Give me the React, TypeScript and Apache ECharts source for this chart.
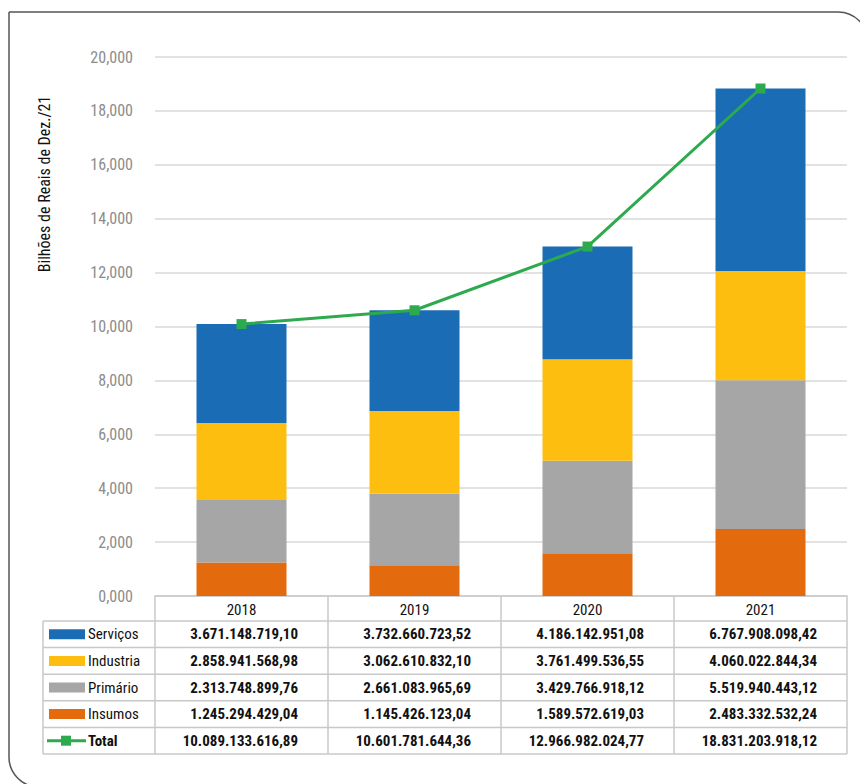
import React, { useEffect, useRef } from "react";
import * as echarts from "echarts";

const categories = ["2018", "2019", "2020", "2021"];
const seriesNames = ["Serviços", "Industria", "Primário", "Insumos"];
const servicos = [3671148719.1, 3732660723.52, 4186142951.08, 6767908098.42];
const industria = [2858941568.98, 3062610832.1, 3761499536.55, 4060022844.34];
const primario = [2313748899.76, 2661083965.69, 3429766918.12, 5519940443.12];
const insumos = [1245294429.04, 1145426123.04, 1589572619.03, 2483332532.24];
const totals = [10089133616.89, 10601781644.36, 12966982024.77, 18831203918.12];
const totalName = "Total";
const yTicks = { min: 0, max: 20, interval: 2 };
const axisName = "Bilhões de Reais de Dez./21";

const colors = ["#1A6DB5", "#FDBE10", "#A6A6A6", "#E36B0E"];
const green = "#2EAA4E";
const FONT = "'Liberation Sans Narrow', 'Roboto Condensed', 'DejaVu Sans Condensed', Roboto, sans-serif";

const fmtBR = (n: number) => {
  const [i, d] = n.toFixed(2).split(".");
  return i.replace(/\B(?=(\d{3})+(?!\d))/g, ".") + "," + d;
};

export default function App() {
  const ref = useRef<HTMLDivElement>(null);
  useEffect(() => {
    if (!ref.current) return;
    const chart = echarts.init(ref.current, null, { renderer: "svg" });
    const W = 860;
    const gridLeft = 155;
    const gridRight = 13;
    const gridTop = 57;
    const axisY = 596;
    const gridBottom = 784 - axisY;
    const tableLeft = 43;
    const tableRight = W - gridRight;
    const headerH = 25;
    const rowH = 26.6;
    const colW = (tableRight - gridLeft) / categories.length;
    const lineColor = "#C8C8C8";

    const rowsData = [servicos, industria, primario, insumos, totals];
    const rowLabels = [...seriesNames, totalName];
    const nRows = rowLabels.length;
    const tableTop = axisY + headerH;
    const tableBottom = tableTop + nRows * rowH;

    const graphics: any[] = [];
    // frame
    graphics.push({
      type: "rect",
      shape: { x: 9, y: 12, width: 859, height: 775, r: [0, 30, 0, 30] },
      style: { fill: "none", stroke: "#555", lineWidth: 1.5 },
      silent: true,
    });
    // y axis name
    graphics.push({
      type: "text",
      x: 44,
      y: 184,
      rotation: Math.PI / 2,
      style: {
        text: axisName,
        fontFamily: FONT,
        fontSize: 16,
        fill: "#111",
        align: "center",
        verticalAlign: "middle",
      },
    });
    // table horizontal lines
    for (let r = 0; r <= nRows; r++) {
      const y = tableTop + r * rowH;
      graphics.push({
        type: "line",
        shape: { x1: tableLeft, y1: y, x2: tableRight, y2: y },
        style: { stroke: lineColor, lineWidth: 1.5 },
      });
    }
    // vertical lines
    graphics.push({
      type: "line",
      shape: { x1: tableLeft, y1: tableTop, x2: tableLeft, y2: tableBottom },
      style: { stroke: lineColor, lineWidth: 1.5 },
    });
    for (let c = 0; c <= categories.length; c++) {
      const x = gridLeft + c * colW;
      graphics.push({
        type: "line",
        shape: { x1: x, y1: axisY, x2: x, y2: tableBottom },
        style: { stroke: lineColor, lineWidth: 1.5 },
      });
    }
    // row labels and swatches
    rowLabels.forEach((label, r) => {
      const cy = tableTop + r * rowH + rowH / 2;
      const isTotal = r === nRows - 1;
      if (!isTotal) {
        graphics.push({
          type: "rect",
          shape: { x: 49, y: cy - 5, width: 36, height: 10 },
          style: { fill: colors[r] },
        });
      } else {
        graphics.push({
          type: "line",
          shape: { x1: 47, y1: cy, x2: 86, y2: cy },
          style: { stroke: green, lineWidth: 3 },
        });
        graphics.push({
          type: "rect",
          shape: { x: 61, y: cy - 5, width: 10, height: 10 },
          style: { fill: green },
        });
      }
      graphics.push({
        type: "text",
        x: 88,
        y: cy,
        style: {
          text: label,
          fontFamily: FONT,
          fontSize: 15,
          fontWeight: isTotal ? "bold" : "normal",
          fill: "#111",
          align: "left",
          verticalAlign: "middle",
        },
      });
      rowsData[r].forEach((v, c) => {
        graphics.push({
          type: "text",
          x: gridLeft + (c + 1) * colW - 30,
          y: cy,
          style: {
            text: fmtBR(v),
            fontFamily: FONT,
            fontSize: 15,
            fontWeight: "bold",
            fill: "#111",
            align: "right",
            verticalAlign: "middle",
          },
        });
      });
    });

    const stackOrder = [3, 2, 1, 0];
    const stackData = [servicos, industria, primario, insumos];

    chart.setOption({
      animation: false,
      grid: { left: gridLeft, right: gridRight, top: gridTop, bottom: gridBottom },
      xAxis: {
        type: "category",
        data: categories,
        axisLine: { lineStyle: { color: lineColor, width: 1.5 } },
        axisTick: { show: false },
        axisLabel: {
          fontFamily: FONT,
          fontSize: 15,
          color: "#111",
          margin: 6,
        },
      },
      yAxis: {
        type: "value",
        min: yTicks.min,
        max: yTicks.max,
        interval: yTicks.interval,
        axisLine: { show: false },
        axisTick: { show: false },
        splitLine: { lineStyle: { color: "#D9D9D9", width: 1.5 } },
        axisLabel: {
          fontFamily: FONT,
          fontSize: 16,
          color: "#8C8C8C",
          margin: 22,
          formatter: (v: number) => v.toFixed(3).replace(".", ","),
        },
      },
      series: [
        ...stackOrder.map((i) => ({
          name: seriesNames[i],
          type: "bar",
          stack: "total",
          barWidth: 90,
          itemStyle: { color: colors[i] },
          data: stackData[i].map((v) => v / 1e9),
        })),
        {
          name: totalName,
          type: "line",
          z: 5,
          data: totals.map((v) => v / 1e9),
          symbol: "rect",
          symbolSize: 10,
          lineStyle: { color: green, width: 3 },
          itemStyle: { color: green },
        },
      ],
      graphic: graphics,
    });
    return () => chart.dispose();
  }, []);
  return <div ref={ref} style={{ width: 860, height: 784, position: "absolute", left: 0, top: 0 }} />;
}
